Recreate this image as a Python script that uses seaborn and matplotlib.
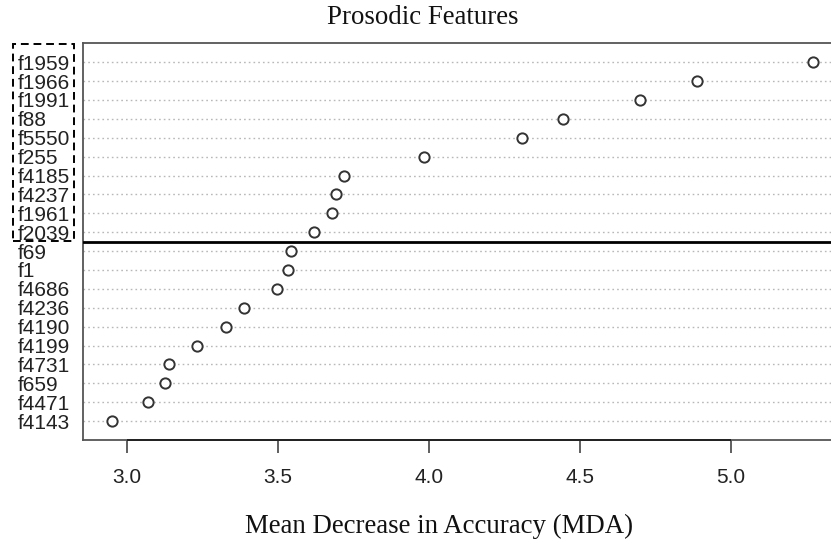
import matplotlib
matplotlib.use("Agg")
import matplotlib.pyplot as plt
import matplotlib.patches as mpatches
import seaborn as sns
import pandas as pd

features = ["f1959", "f1966", "f1991", "f88", "f5550", "f255", "f4185", "f4237",
            "f1961", "f2039", "f69", "f1", "f4686", "f4236", "f4190", "f4199",
            "f4731", "f659", "f4471", "f4143"]
mda = [5.272, 4.886, 4.699, 4.445, 4.307, 3.982, 3.719, 3.692,
       3.678, 3.620, 3.544, 3.533, 3.496, 3.388, 3.329, 3.231,
       3.138, 3.128, 3.069, 2.950]
x_ticks = [3.0, 3.5, 4.0, 4.5, 5.0]
x_tick_labels = ["3.0", "3.5", "4.0", "4.5", "5.0"]
title = "Prosodic Features"
xlabel = "Mean Decrease in Accuracy (MDA)"
n_top = 10

df = pd.DataFrame({"feature": features, "mda": mda})

sns.set_theme(style="white")
plt.rcParams["font.family"] = ["Liberation Sans", "DejaVu Sans"]

W, H = 831, 546
fig = plt.figure(figsize=(W / 100, H / 100), dpi=100)
ax = fig.add_axes([83.3 / W, 1 - 440 / H, 1 - 83.3 / W, (440 - 43.3) / H])

sns.stripplot(data=df, x="mda", y="feature", order=features, jitter=False,
              orient="h", color="white", edgecolor="#333333", linewidth=1.4,
              size=7.4, ax=ax, zorder=3)

ax.set_xlim(2.856, 5.3306)
ax.set_ylim(len(features), -1)

ax.grid(axis="y", linestyle=(0, (1.2, 2.2)), color="#b8b8b8", linewidth=1.0)
ax.grid(axis="x", visible=False)
ax.set_axisbelow(True)

# separator between top features and the rest
ax.axhline(n_top - 0.5, color="black", linewidth=2.0, zorder=4)

for side in ["top", "left", "bottom"]:
    ax.spines[side].set_color("#555555")
    ax.spines[side].set_linewidth(1.3)
ax.spines["right"].set_visible(False)

# axis line between first and last tick
ax.hlines(len(features), x_ticks[0], x_ticks[-1], color="#222222",
          linewidth=1.4, clip_on=False, zorder=5)

ax.set_xticks(x_ticks)
ax.set_xticklabels(x_tick_labels, fontsize=15, color="#222222")
ax.tick_params(axis="x", bottom=True, length=9.5, width=1.2, color="#444444",
               pad=11, direction="out")
ax.tick_params(axis="y", left=False, length=0, pad=47.5, labelsize=15,
               labelcolor="#222222")
for lab in ax.get_yticklabels():
    lab.set_horizontalalignment("left")

ax.set_xlabel("")
ax.set_ylabel("")

fig.text(423 / W, 1 - 17 / H, title, ha="center", va="center",
         fontsize=19.4, family=["Liberation Serif", "DejaVu Serif"], color="#111111")
fig.text(439 / W, 1 - 526 / H, xlabel, ha="center", va="center",
         fontsize=19.4, family=["Liberation Serif", "DejaVu Serif"], color="#111111")

# dashed box around the top feature labels
rect = mpatches.Rectangle((12.7 / W, 1 - 241 / H), 61.3 / W, 197 / H,
                          transform=fig.transFigure, fill=False,
                          edgecolor="black", linewidth=1.4,
                          linestyle=(0, (4, 2.5)), clip_on=False)
fig.patches.append(rect)

fig.savefig("out.png", dpi=100)
